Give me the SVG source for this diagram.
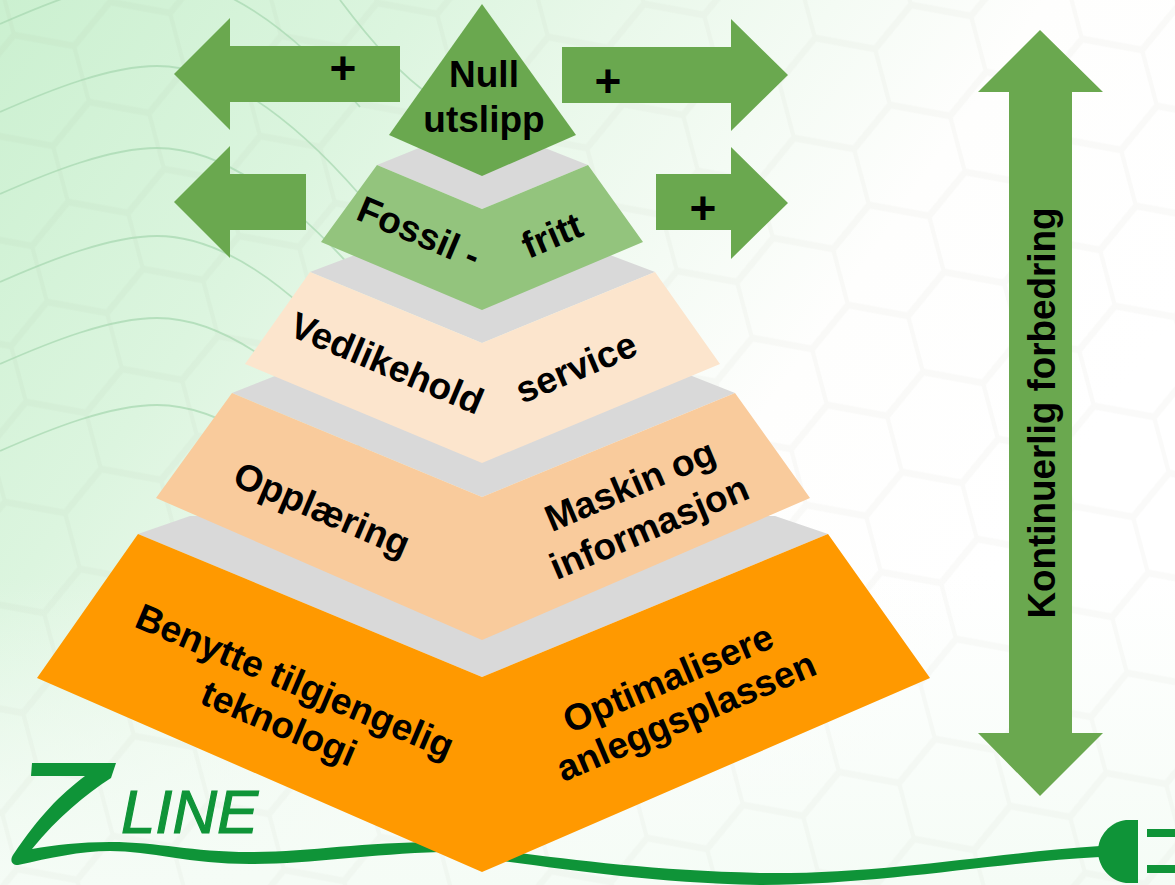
<svg xmlns="http://www.w3.org/2000/svg" width="1175" height="885" viewBox="0 0 1175 885">
<style>
.t{font-family:"Liberation Sans",Arial,sans-serif;font-weight:700;fill:#000;text-anchor:middle}
.s{font-size:37px}
.g{fill:#d9d9d9}
.a{fill:#6aa84f}
.arc{fill:none;stroke:#a8d8b2;stroke-opacity:.75;stroke-width:1.8}
.hx{fill:none;stroke:#6f6f50;stroke-opacity:.03;stroke-width:6}
.z{fill:#0f9438}
</style>
<defs>
<linearGradient id="bg" gradientUnits="userSpaceOnUse" x1="0" y1="0" x2="950" y2="650">
<stop offset="0" stop-color="#cbf0d0"/>
<stop offset=".3" stop-color="#dcf5df"/>
<stop offset=".45" stop-color="#e9f8ea"/>
<stop offset=".6" stop-color="#f4fbf4"/>
<stop offset=".75" stop-color="#fefefd"/>
<stop offset="1" stop-color="#ffffff"/>
</linearGradient>
<linearGradient id="bg2" x1="0" y1="1" x2="0" y2=".65">
<stop offset="0" stop-color="#f5fcf6"/>
<stop offset="1" stop-color="#f5fcf6" stop-opacity="0"/>
</linearGradient>
<pattern id="hex" patternUnits="userSpaceOnUse" width="100" height="100" patternTransform="matrix(.75 .67 -.21 1 890 105)">
<path class="hx" d="M0 0L70 -36 100 0 70 64 100 100M0 100L70 64M0 0L-30 64 0 100M100 0L130 -36M100 100L170 64"/>
</pattern>
<path id="arc" class="arc" d="M0 112C50 90 110 66 157 66C220 66 290 115 360 195"/>
</defs>
<g id="background">
<rect width="1175" height="885" fill="url(#bg)"/>
<rect width="1175" height="885" fill="url(#bg2)"/>
<rect width="1175" height="885" fill="url(#hex)"/>
<use href="#arc" y="-88"/>
<use href="#arc"/>
<use href="#arc" y="82"/>
<use href="#arc" y="170"/>
<use href="#arc" y="252"/>
<use href="#arc" y="339"/>
<path class="arc" d="M340 0C370 40 400 75 430 95"/>
</g>
<g id="logo">
<path class="z" d="M32 763H116L111 778C85 795 58 817 32 849C55 845 80 842 110 842C160 842 190 852 250 852C310 852 360 842 440 842V852C370 854 310 864 250 864C190 864 150 851 110 851C80 851 50 858 18 865C11 865 10 860 13 855C40 815 60 795 85 776H31Z"/>
<text x="121" y="833" style="font-family:'Liberation Sans',Arial,sans-serif;font-size:62px;font-style:italic;fill:#0f9438;stroke:#0f9438;stroke-width:1.2" textLength="137" lengthAdjust="spacingAndGlyphs">LINE</text>
<path class="z" d="M480 848C560 858 640 870 760 873C880 875 1000 852 1100 846V857C1000 862 880 885 760 885C640 882 560 868 480 858Z"/>
<path class="z" d="M1138 820H1126C1110 822 1098 836 1098 851C1098 867 1110 881 1126 883H1138Z"/>
<rect class="z" x="1147" y="829" width="28" height="8"/>
<rect class="z" x="1147" y="865" width="28" height="8"/>
</g>
<g id="connectors">
<path id="arrow-top-left" class="a" d="M174 74L230 18V46H400V102H230V130Z"/>
<path id="arrow-top-right" class="a" d="M788 75L731 19V47H562V103H731V131Z"/>
<path id="arrow-mid-left" class="a" d="M174 202L230 146V174H306V230H230V258Z"/>
<path id="arrow-mid-right" class="a" d="M788 203L731 147V174H656V230H731V259Z"/>
<path id="arrow-vertical" class="a" d="M1040 30L1103 92H1072V733H1103L1040 796 978 733H1009V92H978Z"/>
<g class="t" style="font-size:46px">
<text x="343" y="84">+</text>
<text x="608" y="97">+</text>
<text x="703" y="224">+</text>
</g>
<text class="t" transform="translate(1055,413) rotate(-90)" style="font-size:38px" textLength="411" lengthAdjust="spacingAndGlyphs">Kontinuerlig forbedring</text>
</g>
<g id="level-benytte">
<path class="g" d="M138 534L190 516H775L828 534 482 677Z"/>
<path fill="#ff9900" d="M138 534L482 677 828 534 930 678 482 872 37 678Z"/>
<g class="t s">
<text transform="translate(290,693) rotate(23)">Benytte tilgjengelig</text>
<text transform="translate(274,735) rotate(23)">teknologi</text>
<text transform="translate(673,690) rotate(-23)">Optimalisere</text>
<text transform="translate(691,728) rotate(-23)">anleggsplassen</text>
</g>
</g>
<g id="level-opplaering">
<path class="g" d="M232 393L275 376H692L735 393 482 497Z"/>
<path fill="#f9cb9c" d="M232 393L482 497 735 393 810 498 482 640 156 498Z"/>
<g class="t s">
<text transform="translate(317,521) rotate(23)">Opplæring</text>
<text transform="translate(635,497) rotate(-23)">Maskin og</text>
<text transform="translate(654,539) rotate(-23)">informasjon</text>
</g>
</g>
<g id="level-vedlikehold">
<path class="g" d="M310 272L355 255H610L655 272 482 343Z"/>
<path fill="#fce5cd" d="M310 272L482 343 655 272 720 364 482 463 245 364Z"/>
<g class="t s">
<text transform="translate(382,375) rotate(23)">Vedlikehold</text>
<text transform="translate(581,379) rotate(-23)">service</text>
</g>
</g>
<g id="level-fossil">
<path class="g" d="M377 165L419 148H545L588 165 482 209Z"/>
<path fill="#93c47d" d="M377 165L482 209 588 165 643 242 482 310 321 242Z"/>
<g class="t s">
<text transform="translate(414,244) rotate(23)">Fossil -</text>
<text transform="translate(557,247) rotate(-23)">fritt</text>
</g>
</g>
<g id="level-null">
<path class="a" d="M482 4L576 135 482 176 389 135Z"/>
<g class="t" style="font-size:37px">
<text x="484" y="87">Null</text>
<text x="484" y="132">utslipp</text>
</g>
</g>
</svg>
